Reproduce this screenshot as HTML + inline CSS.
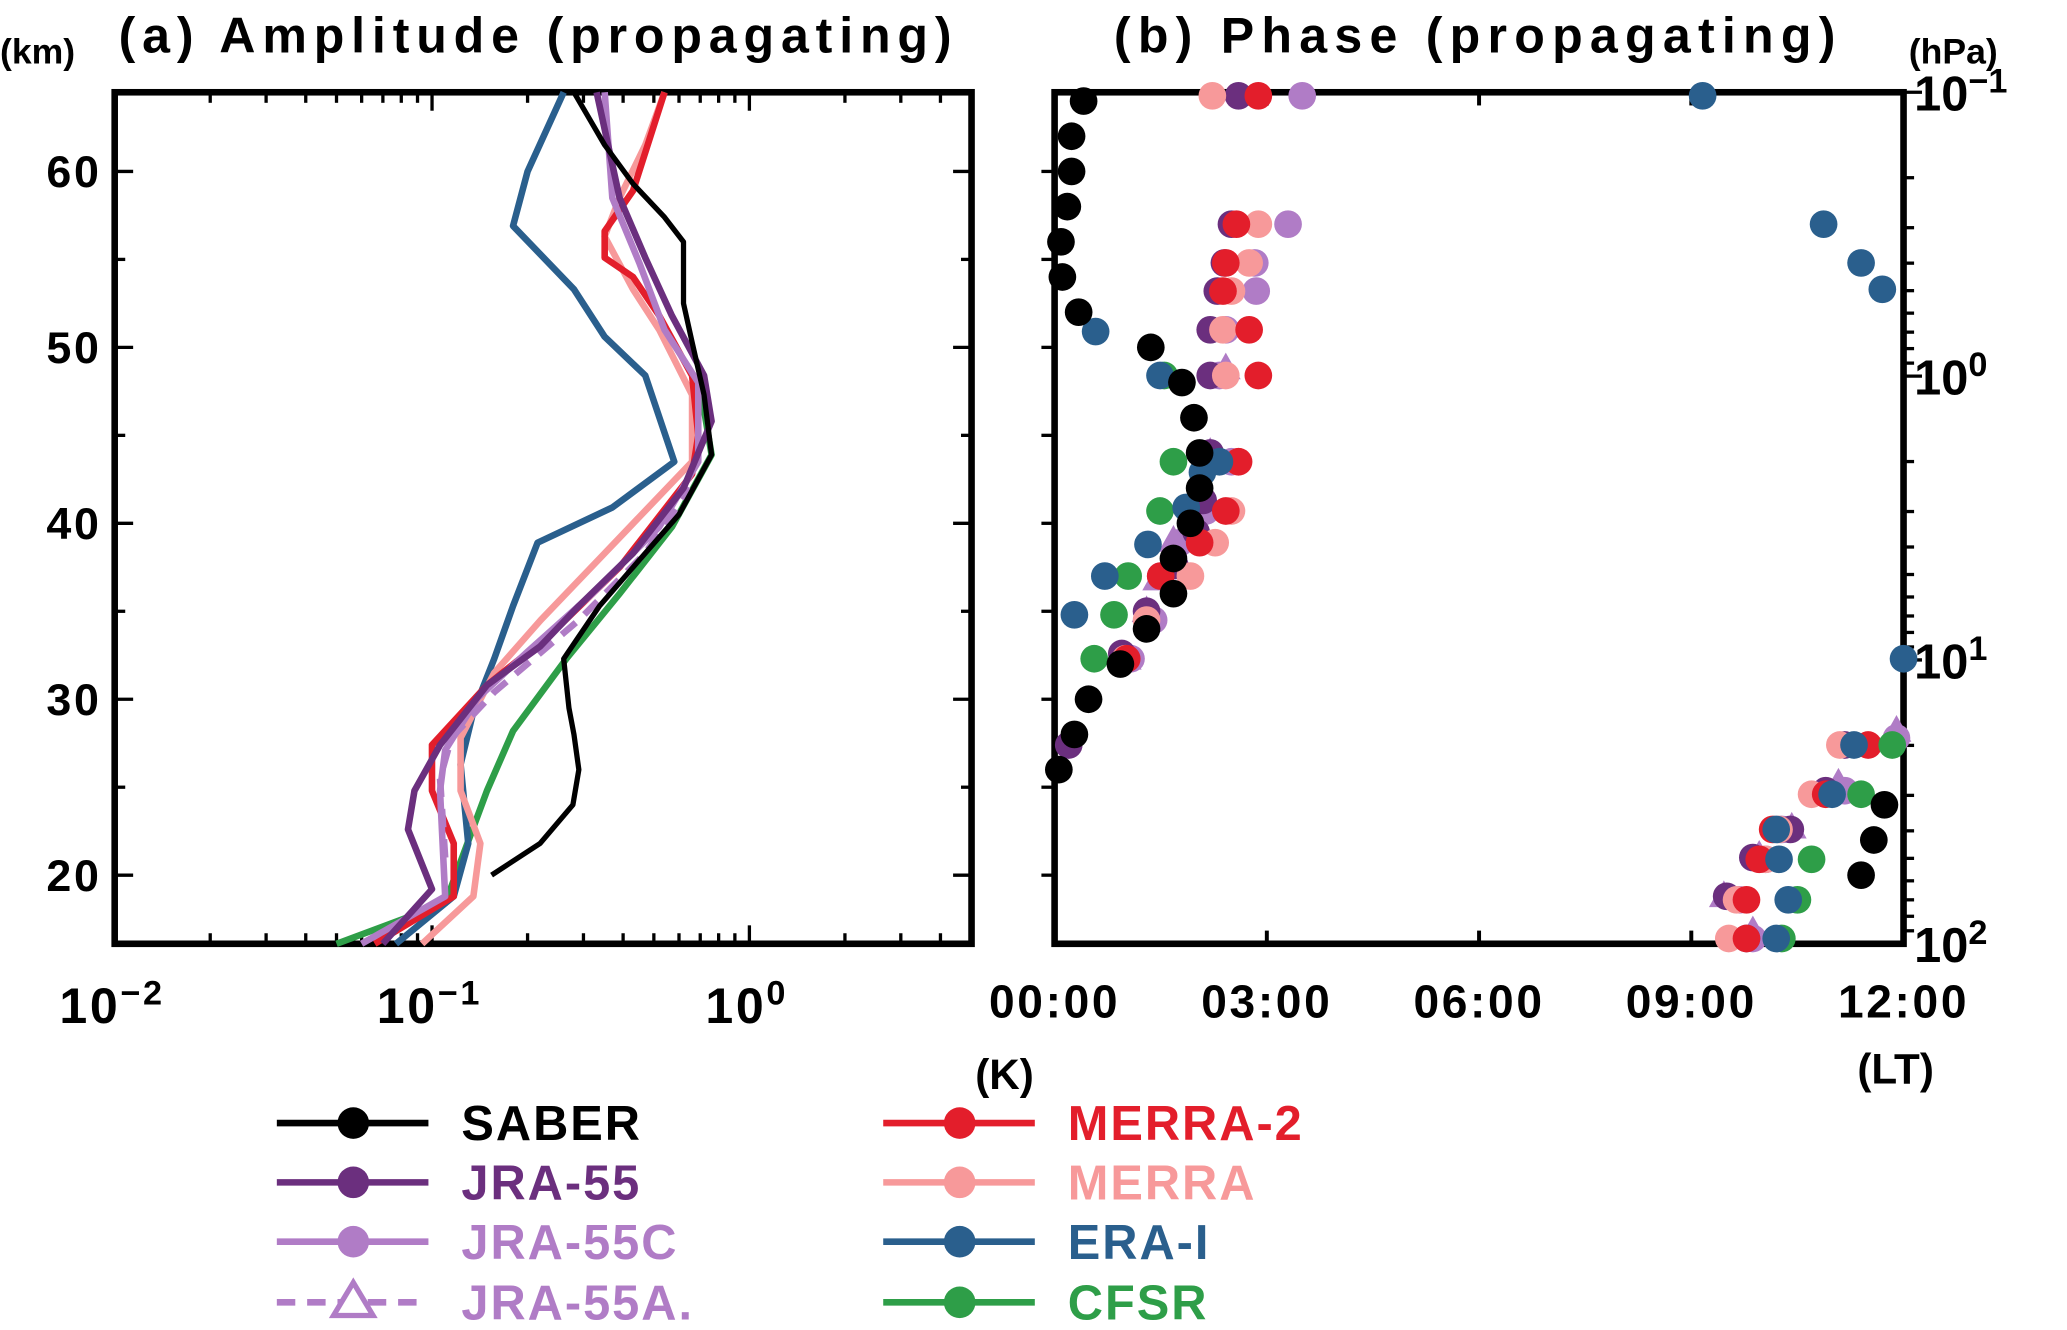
<!DOCTYPE html>
<html><head><meta charset="utf-8"><style>
html,body{margin:0;padding:0;background:#fff;}
svg{display:block;font-family:"Liberation Sans",sans-serif;font-weight:bold;}
</style></head><body>
<svg id="chart" width="2067" height="1330" viewBox="0 0 1568 1009" preserveAspectRatio="none" xmlns="http://www.w3.org/2000/svg">
<g id="panelA"></g>
<g id="panelB"></g>
<g id="legend"></g>
</svg>
<script>
// ---- Data ----
const seriesNames = ["SABER","JRA-55","JRA-55C","JRA-55A.","MERRA-2","MERRA","ERA-I","CFSR"];
const seriesColors = ["#000000","#6b2f7e","#b07cc6","#b07cc6","#e31e2b","#f7999a","#2a5f8d","#2e9e48"];
// Amplitude (K) and altitude (km)
const ampSABER = [0.154,0.219,0.278,0.29,0.28,0.27,0.26,0.337,0.43,0.60,0.76,0.72,0.66,0.62,0.62,0.54,0.43,0.35,0.28];
const kmSABER  = [20,21.8,24,26,28,29.5,32.3,35.3,37.5,40.5,43.9,47.3,50.3,52.5,56,57.4,59.3,61.5,64.5];
const ampJRA55 = [0.07,0.10,0.084,0.088,0.106,0.149,0.219,0.29,0.43,0.62,0.76,0.72,0.57,0.47,0.39,0.33];
const kmJRA55  = [16.1,19.2,22.6,24.8,27.4,30.8,33.0,35.3,38.3,42,45.8,48.4,51.8,55.1,58.5,64.5];
const ampJRA55C = [0.06,0.11,0.106,0.11,0.14,0.2,0.32,0.52,0.69,0.69,0.54,0.45,0.37,0.35];
const kmJRA55C  = [16.1,18.8,24.8,27.1,30.1,32.7,36,39.8,43.5,48,51,54.8,58.5,64.5];
const ampJRA55A = [0.11,0.106,0.115,0.157,0.29,0.47,0.65];
const kmJRA55A  = [21,25.5,27.8,30.4,34.5,38.3,42];
const ampMERRA2 = [0.066,0.117,0.117,0.10,0.10,0.149,0.24,0.39,0.66,0.69,0.66,0.52,0.43,0.35,0.35,0.43,0.54];
const kmMERRA2  = [16.1,18.8,21.8,24.8,27.4,30.8,33.8,37.5,42.8,45,48.4,51.8,54,55.1,56.6,58.9,64.5];
const ampMERRA = [0.093,0.135,0.142,0.123,0.123,0.157,0.22,0.35,0.66,0.66,0.52,0.43,0.35,0.39,0.47,0.54];
const kmMERRA  = [16.1,18.8,21.8,24.8,27.8,31.5,34.5,38.3,43.5,47.3,51,53.3,56.3,58.5,61.5,64.5];
const ampERAI = [0.077,0.117,0.13,0.123,0.135,0.157,0.18,0.215,0.37,0.58,0.47,0.35,0.28,0.18,0.2,0.26];
const kmERAI  = [16.1,18.8,21.8,26.3,29.3,32.3,35.3,38.9,40.9,43.5,48.4,50.6,53.3,56.9,60,64.5];
const ampCFSR = [0.05,0.11,0.149,0.18,0.265,0.39,0.57,0.76,0.69];
const kmCFSR  = [16.1,18.4,24.8,28.2,32.3,36,39.8,43.9,48.4];
// Phase (hours LT) and altitude (km)
const phSABER = [0.41,0.24,0.24,0.18,0.09,0.11,0.34,1.36,1.8,1.97,2.05,2.05,1.92,1.68,1.68,1.3,0.93,0.48,0.28,0.06,11.73,11.58,11.4];
const phkmSABER = [64,62,60,58,56,54,52,50,48,46,44,42,40,38,36,34,32,30,28,26,24,22,20];
const phJRA55 = [2.6,2.5,2.4,2.3,2.2,2.2,2.2,2.1,2.0,1.7,1.3,0.95,0.2,11.17,10.9,10.4,9.87,9.5,9.78];
const phkmJRA55 = [64.3,57,54.8,53.2,51,48.4,44,41.3,39.5,37.6,35,32.6,27.4,27.4,24.8,22.6,21,18.8,16.4];
const phJRA55C = [3.5,3.3,2.83,2.85,2.42,2.33,2.5,2.14,1.77,1.5,1.4,1.08,11.9,11.17,10.28,10.05,9.68,9.87];
const phkmJRA55C = [64.3,57,54.8,53.2,51,48.4,43.5,40.7,38.9,37,34.5,32.3,27.8,24.8,22.6,20.9,18.6,16.4];
const phJRA55A = [2.42,2.2,1.96,1.68,1.45,1.3,1.02,11.9,11.08,10.42,9.96,9.46,9.87];
const phkmJRA55A = [48.8,44,41,39,36.8,35,32.3,28.2,25.2,22.7,21.1,18.8,16.8];
const phMERRA2 = [2.88,2.57,2.42,2.38,2.75,2.88,2.6,2.42,2.05,1.5,1.02,11.5,10.9,10.15,9.96,9.78,9.78];
const phkmMERRA2 = [64.3,57,54.8,53.2,51,48.4,43.5,40.7,38.9,37,32.3,27.4,24.6,22.6,20.9,18.6,16.4];
const phMERRA = [2.23,2.88,2.75,2.5,2.38,2.42,2.6,2.5,2.27,1.92,1.3,1.0,11.1,10.7,10.24,10.05,9.64,9.53];
const phkmMERRA = [64.3,57,54.8,53.2,51,48.4,43.5,40.7,38.9,37,34.5,32.3,27.4,24.6,22.6,20.9,18.6,16.4];
const phERAI = [9.16,10.87,11.4,11.7,0.58,1.49,2.33,2.09,1.86,1.32,0.71,0.28,12.0,11.3,10.99,10.2,10.24,10.37,10.2];
const phkmERAI = [64.3,57,54.8,53.3,50.9,48.4,43.5,42.9,40.9,38.8,37,34.8,32.3,27.4,24.6,22.6,20.9,18.6,16.4];
const phCFSR = [1.55,1.68,1.49,1.04,0.84,0.56,11.84,11.4,10.7,10.5,10.28];
const phkmCFSR = [48.4,43.5,40.7,37,34.8,32.3,27.4,24.6,20.9,18.6,16.4];
// Axis tick labels
const kmTicks = [20,30,40,50,60];
const ampTickExps = ["−2","−1","0"];
const ampTickVals = [0.01,0.1,1];
const phaseTickLabels = ["00:00","03:00","06:00","09:00","12:00"];
const phaseTickVals = [0,3,6,9,12];
const hpaTickExps = ["−1","0","1","2"];
const hpaTickVals = [0.1,1,10,100];

// ---- Axes ----
const A = {x0:87,x1:737,y0:70,y1:716};
const B = {x0:800,x1:1444,y0:70,y1:716};
const KMTOP=64.5, KMBOT=16.1;
const xA = v => A.x0 + (Math.log10(v)+2)/2.7*(A.x1-A.x0);
const yK = km => A.y0 + (KMTOP-km)/(KMTOP-KMBOT)*(A.y1-A.y0);
const xB = h => B.x0 + h/12*(B.x1-B.x0);
const yP = p => B.y0 + (Math.log10(p)+1)/3*(B.y1-B.y0);
const NS="http://www.w3.org/2000/svg";
function mk(tag, attrs, parent){const e=document.createElementNS(NS,tag);for(const k in attrs)e.setAttribute(k,attrs[k]);parent.appendChild(e);return e;}
const gA=document.getElementById('panelA'), gB=document.getElementById('panelB'), gL=document.getElementById('legend');

let f=mk('rect',{x:A.x0,y:A.y0,width:A.x1-A.x0,height:A.y1-A.y0,fill:'none',stroke:'#000','stroke-width':5},gA);


for(let d=-2; d<=0; d++){for(let m=1;m<=9;m++){const v=m*Math.pow(10,d);const x=xA(v);if(x>A.x1-1)continue;const len=m===1?14:8;
 mk('line',{x1:x,y1:A.y0,x2:x,y2:A.y0+len,stroke:'#000','stroke-width':2.5},gA);
 mk('line',{x1:x,y1:A.y1,x2:x,y2:A.y1-len,stroke:'#000','stroke-width':2.5},gA);}}
for(let km=20;km<=60;km+=5){const y=yK(km);const len=km%10===0?14:8;
 mk('line',{x1:A.x0,y1:y,x2:A.x0+len,y2:y,stroke:'#000','stroke-width':2.5},gA);
 mk('line',{x1:A.x1,y1:y,x2:A.x1-len,y2:y,stroke:'#000','stroke-width':2.5},gA);}
kmTicks.forEach(k=>{const t=mk('text',{x:A.x0-10,y:yK(k)+12,'text-anchor':'end','font-size':34,style:'letter-spacing:2px'},gA);t.textContent=k;
 
 });
ampTickVals.forEach((v,i)=>{const t=mk('text',{x:xA(v)-2,y:776,'text-anchor':'middle','font-size':38,style:'letter-spacing:2px'},gA);
 
 
 t.innerHTML='10<tspan dy="-14" font-size="26">'+ampTickExps[i]+'</tspan>';});
let t=mk('text',{x:0,y:48,'font-size':27},gA);t.textContent='(km)';


t=mk('text',{x:90,y:40,'font-size':38},gA);t.textContent='(a) Amplitude (propagating)';


t.setAttribute('style','letter-spacing:5.2px;white-space:pre');
t=mk('text',{x:762,y:826,'text-anchor':'middle','font-size':32},gA);t.textContent='(K)';



const ampSeries=[[ampSABER,kmSABER],[ampJRA55,kmJRA55],[ampJRA55C,kmJRA55C],[ampJRA55A,kmJRA55A],[ampMERRA2,kmMERRA2],[ampMERRA,kmMERRA],[ampERAI,kmERAI],[ampCFSR,kmCFSR]];
const drawOrder=[7,6,5,4,3,2,1,0];
drawOrder.forEach(i=>{const [a,k]=ampSeries[i];const pts=a.map((v,j)=>xA(v).toFixed(1)+','+yK(k[j]).toFixed(1)).join(' ');
 const p=mk('polyline',{points:pts,fill:'none',stroke:seriesColors[i],'stroke-width':i===0?4:5,'stroke-linejoin':'round','stroke-dasharray':i===3?'14,9':'none'},gA);
 
 });

f=mk('rect',{x:B.x0,y:B.y0,width:B.x1-B.x0,height:B.y1-B.y0,fill:'none',stroke:'#000','stroke-width':5},gB);


for(let km=20;km<=60;km+=5){const y=yK(km);mk('line',{x1:B.x0-10,y1:y,x2:B.x0,y2:y,stroke:'#000','stroke-width':2.5},gB);}
for(let h=0;h<=12;h+=3){const x=xB(h);mk('line',{x1:x,y1:B.y0,x2:x,y2:B.y0+10,stroke:'#000','stroke-width':3},gB);mk('line',{x1:x,y1:B.y1,x2:x,y2:B.y1-10,stroke:'#000','stroke-width':3},gB);}
for(let d=-1;d<=1;d++){for(let m=1;m<=9;m++){const p=m*Math.pow(10,d);const y=yP(p);const len=m===1?14:8;
 mk('line',{x1:B.x1,y1:y,x2:B.x1+len,y2:y,stroke:'#000','stroke-width':2.5},gB);}}
phaseTickVals.forEach((v,i)=>{const t=mk('text',{x:xB(v),y:772,'text-anchor':'middle','font-size':35,style:'letter-spacing:2px'},gB);t.textContent=phaseTickLabels[i];
 
 });
hpaTickVals.forEach((v,i)=>{const t=mk('text',{x:1452,y:yP(v)+14,'font-size':37},gB);
 
 
 t.innerHTML='10<tspan dy="-14" font-size="26">'+hpaTickExps[i]+'</tspan>';});
t=mk('text',{x:1448,y:48,'font-size':27},gB);t.textContent='(hPa)';


t=mk('text',{x:845,y:40,'font-size':38},gB);t.textContent='(b) Phase (propagating)';


t.setAttribute('style','letter-spacing:5.5px;white-space:pre');
t=mk('text',{x:1438,y:822,'text-anchor':'middle','font-size':32},gB);t.textContent='(LT)';



const phSeries=[[phSABER,phkmSABER],[phJRA55,phkmJRA55],[phJRA55C,phkmJRA55C],[phJRA55A,phkmJRA55A],[phMERRA2,phkmMERRA2],[phMERRA,phkmMERRA],[phERAI,phkmERAI],[phCFSR,phkmCFSR]];
function tri(cx,cy,r,color,parent){return mk('polygon',{points:`${cx},${cy-r} ${cx-r*0.95},${cy+r*0.7} ${cx+r*0.95},${cy+r*0.7}`,fill:color,stroke:color,'stroke-width':1},parent);}
[3,2,1,5,4,7,6,0].forEach(i=>{const [h,k]=phSeries[i];h.forEach((v,j)=>{const cx=xB(v),cy=yK(k[j]);let e;
 if(i===3)e=tri(cx,cy,11,seriesColors[i],gB);else e=mk('circle',{cx:cx,cy:cy,r:10.5,fill:seriesColors[i]},gB);
 
 });});

const legRows=[852,897,942,988];
seriesNames.forEach((n,i)=>{const col=i<4?0:1;const row=i%4;const lx=col?670:210;const y=legRows[row];
 const g=mk('g',{},gL);
 
 
 mk('line',{x1:lx,y1:y,x2:lx+115,y2:y,stroke:seriesColors[i],'stroke-width':5,'stroke-dasharray':i===3?'14,9':'none'},g);
 if(i===3){mk('polygon',{points:`${lx+58},${y-15} ${lx+43},${y+10} ${lx+73},${y+10}`,fill:'#fff',stroke:seriesColors[i],'stroke-width':4},g);}
 else mk('circle',{cx:lx+58,cy:y,r:12,fill:seriesColors[i]},g);
 const tx=mk('text',{x:lx+140,y:y+13,'font-size':37,fill:seriesColors[i],style:'letter-spacing:1.5px'},g);tx.textContent=n;});
</script>
</body></html>
